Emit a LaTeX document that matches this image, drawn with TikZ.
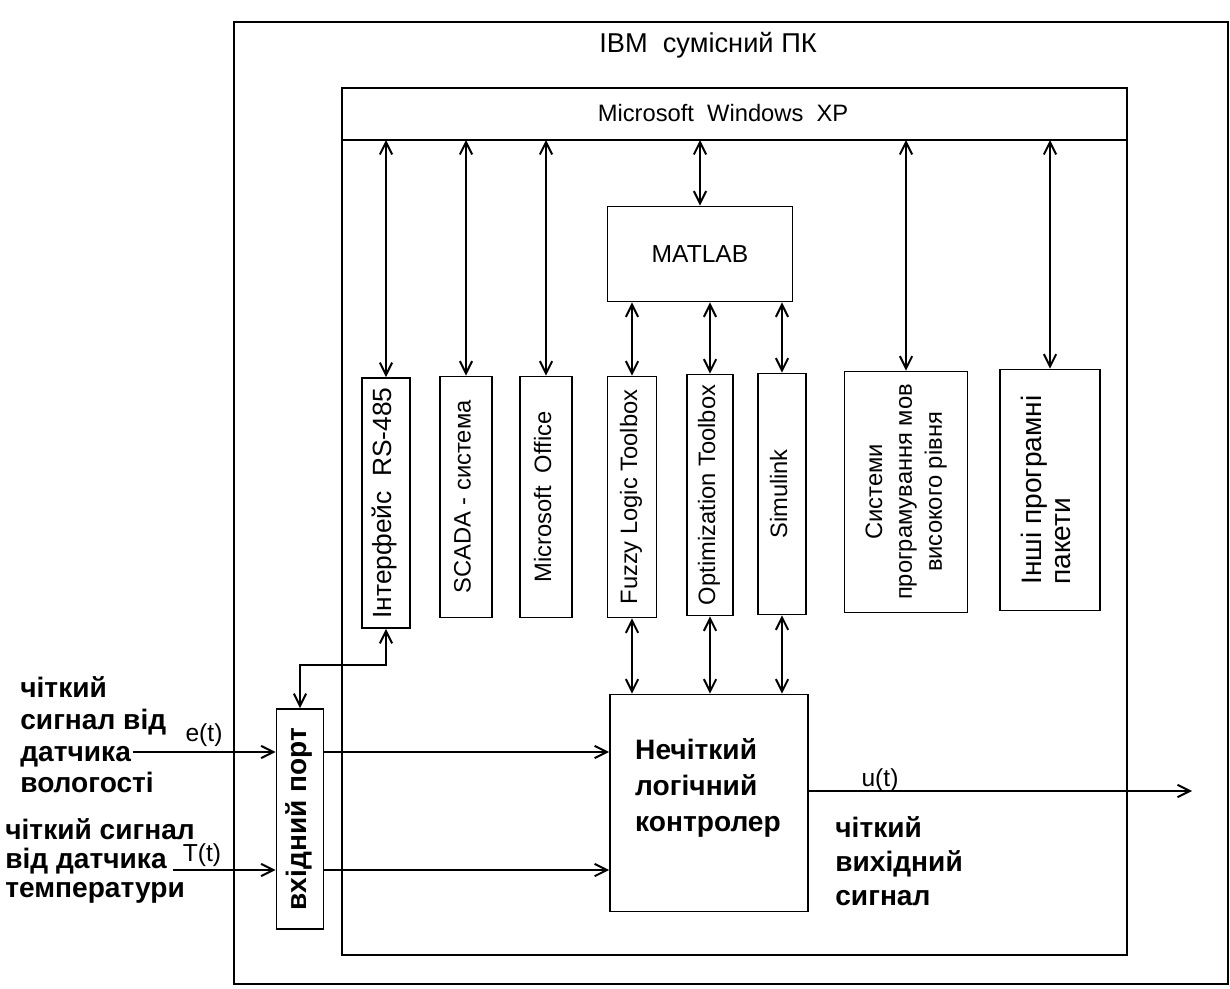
\documentclass[tikz,border=0pt]{standalone}
\usepackage{fontspec}
\setmainfont{Liberation Sans}
\usepackage{graphicx}
\usepackage{tikz}
\usetikzlibrary{arrows.meta, positioning, calc}

\newcommand{\vtext}[2][c]{\rotatebox{90}{\begin{tabular}{@{}#1@{}}#2\end{tabular}}}
\newcommand{\fs}[1]{\fontsize{#1}{#1}\selectfont}

\tikzset{
  frame/.style={line width=1.2pt},
  blk/.style={draw, line width=1.1pt, inner sep=0pt},
  vbox/.style={blk, minimum height=4.82cm, font=\fs{13.5}},
  dbl/.style={<->, line width=1.1pt},
  sig/.style={->, line width=1.1pt},
  bigtxt/.style={font=\bfseries\fontsize{16}{18}\selectfont, align=left, inner sep=0pt}
}

\begin{document}
\begin{tikzpicture}[x=0.02cm, y=-0.02cm, >={Straight Barb[length=7pt,width=7pt]}]
\useasboundingbox (0,0) rectangle (1230,989);

% PC and Windows frames
\draw[frame] (234,22) rectangle (1228,984);
\node (ibm) at (708,45) {\fs{15.5}IBM\ \ сумісний ПК};
\draw[frame] (342,88) rectangle (1127,955);
\draw[frame] (342,140) -- (1127,140);
\coordinate (bar) at (735,140);
\node (win) at (723,113) {\fs{13.5}Microsoft\ \ Windows\ \ XP};

% applications
\node[vbox, minimum width=0.96cm, minimum height=5cm, font=\fs{15}] (rs) at (386,503) {\vtext{Інтерфейс\ \ RS-485}};
\node[vbox, minimum width=1.04cm] (scada) at (466,497) {\vtext{SCADA - система}};
\node[vbox, minimum width=1.04cm] (office) at (546,497) {\vtext{Microsoft\ \ Office}};
\node[vbox, minimum width=0.98cm] (fuzzy) at (632,497) {\vtext{Fuzzy Logic Toolbox}};
\node[vbox, minimum width=0.92cm] (optim) at (710,495) {\vtext{Optimization Toolbox}};
\node[vbox, minimum width=0.96cm] (simul) at (782,494) {\vtext{Simulink}};
\node[vbox, minimum width=2.46cm, font=\fontsize{13.5}{17}\selectfont] (hll) at (906,492)
  {\vtext{Системи\\програмування мов\\високого рівня}};
\node[vbox, minimum width=2cm, font=\fs{16}] (other) at (1050,490)
  {\vtext[l]{Інші програмні\\пакети}};

% MATLAB
\node[blk, minimum width=3.7cm, minimum height=1.9cm, font=\fs{14}] (matlab) at (700,254) {MATLAB};

\foreach \n in {rs,scada,office,matlab,hll,other}
  \draw[dbl] (\n.north |- bar) -- (\n.north);
\foreach \n in {fuzzy,optim,simul}
  \draw[dbl] (\n.north |- matlab.south) -- (\n.north);

% input port and controller
\node[blk, minimum width=0.94cm, minimum height=4.4cm, font=\bfseries\fs{16}] (port) at (300,819)
  {\vtext{вхідний порт}};
\node[blk, minimum width=3.96cm, minimum height=4.34cm] (nlc) at (709,803) {};
\node[bigtxt, font=\bfseries\fontsize{16}{20.5}\selectfont] (nlctext) at (708,788) {Нечіткий\\логічний\\контролер};

\foreach \n in {fuzzy,optim,simul}
  \draw[dbl] (\n.south) -- (\n.south |- nlc.north);
\draw[dbl] (rs.south) -- ++(0,36) -| (port.north);

% sensor signals
\node[bigtxt, anchor=west] (hum) at (20,735) {чіткий\\сигнал від\\датчика\\вологості};
\node[bigtxt, anchor=west, font=\bfseries\fontsize{16}{16.5}\selectfont] (temp) at (5,861) {чіткий сигнал\\від датчика\\температури};
\coordinate (e0) at (133,752);
\coordinate (t0) at (173,870);
\node[font=\fs{14}] (et) at (204,735) {e(t)};
\node[font=\fs{14}] (tt) at (202,855) {T(t)};
\draw[sig] (e0) -- (e0 -| port.west);
\draw[sig] (t0) -- (t0 -| port.west);
\draw[sig] (port.east |- e0) -- (nlc.west |- e0);
\draw[sig] (port.east |- t0) -- (nlc.west |- t0);

% output signal
\coordinate (u1) at (1192,791);
\draw[sig] (nlc.east |- u1) -- (u1);
\node[font=\fs{14}] (ut) at (880,780) {u(t)};
\node[bigtxt, anchor=west, font=\bfseries\fontsize{16}{19.3}\selectfont] (out) at (835,861) {чіткий\\вихідний\\сигнал};
\end{tikzpicture}
\end{document}
